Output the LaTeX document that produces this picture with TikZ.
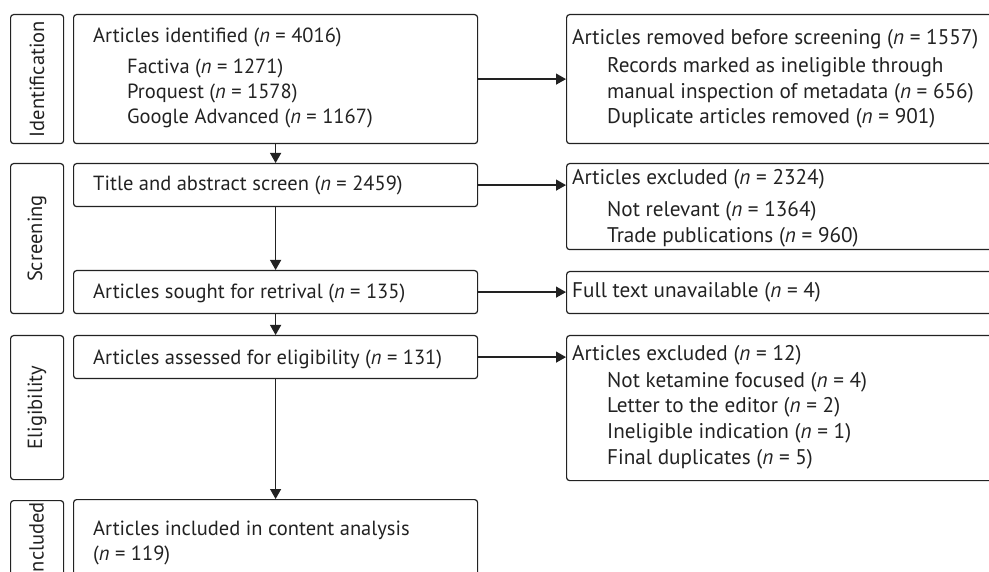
\documentclass[tikz,border=0pt]{standalone}
\usepackage{fontspec}
\setmainfont{PT Sans}
\usetikzlibrary{arrows.meta}
\definecolor{ink}{HTML}{222222}
\begin{document}
\begin{tikzpicture}[x=1pt,y=-1pt,
  box/.style={draw=ink, line width=1.2pt, rounded corners=3pt, inner sep=0pt, anchor=north west},
  txt/.style={anchor=base west, inner sep=0pt, text=ink, font=\fontsize{20.5}{25}\selectfont},
  rtxt/.style={anchor=base west, inner sep=0pt, text=ink, font=\fontsize{21.2}{25}\selectfont},
  phase/.style={rotate=90, inner sep=0pt, text=ink, font=\fontsize{20.5}{25}\selectfont},
  arr/.style={draw=ink, line width=1.2pt, -{Triangle[length=10pt,width=11pt]}}]
\useasboundingbox (0,0) rectangle (989,572);
\clip (0,0) rectangle (989,572);
% phase boxes
\node[box, minimum width=53pt, minimum height=129pt] (pI) at (10,14) {};
\node[box, minimum width=53pt, minimum height=150pt] (pS) at (10,163) {};
\node[box, minimum width=53pt, minimum height=144pt] (pE) at (10,335) {};
\node[box, minimum width=53pt, minimum height=120pt] (pN) at (10,500) {};
\node[phase] (lI) at (pI.center) {Identification};
\node[phase] (lS) at (pS.center) {Screening};
\node[phase] (lE) at (pE.center) {Eligibility};
\node[phase, anchor=east] (lN) at (36.5,502) {Included};
% main boxes
\node[box, minimum width=404pt, minimum height=129pt] (b1) at (73,14) {};
\node[box, minimum width=404pt, minimum height=43pt] (b2) at (73,163) {};
\node[box, minimum width=404pt, minimum height=43pt] (b3) at (73,270) {};
\node[box, minimum width=404pt, minimum height=43pt] (b4) at (73,335) {};
\node[box, minimum width=404pt, minimum height=120pt] (b5) at (73,499) {};
% right boxes
\node[box, minimum width=450pt, minimum height=129pt] (r1) at (566,14) {};
\node[box, minimum width=450pt, minimum height=86pt] (r2) at (566,163) {};
\node[box, minimum width=450pt, minimum height=42pt] (r3) at (566,271) {};
\node[box, minimum width=450pt, minimum height=145pt] (r4) at (566,335) {};
% main texts
\node[txt] (t1) at (93,43) {Articles identified (\textit{n} = 4016)};
\node[txt] (t1a) at (127,74) {Factiva (\textit{n} = 1271)};
\node[txt] (t1b) at (127,99) {Proquest (\textit{n} = 1578)};
\node[txt] (t1c) at (127,124) {Google Advanced (\textit{n} = 1167)};
\node[txt] (t2) at (93,191) {Title and abstract screen (\textit{n} = 2459)};
\node[txt] (t3) at (93,299) {Articles sought for retrival (\textit{n} = 135)};
\node[txt] (t4) at (93,365) {Articles assessed for eligibility (\textit{n} = 131)};
\node[txt] (t5) at (93,535) {Articles included in content analysis};
\node[txt] (t5a) at (93,560) {(\textit{n} = 119)};
% right texts
\node[rtxt] (s1) at (572,45) {Articles removed before screening (\textit{n} = 1557)};
\node[rtxt] (s1a) at (607,73) {Records marked as ineligible through};
\node[rtxt] (s1b) at (607,99) {manual inspection of metadata (\textit{n} = 656)};
\node[rtxt] (s1c) at (607,124) {Duplicate articles removed (\textit{n} = 901)};
\node[rtxt] (s2) at (572,185) {Articles excluded (\textit{n} = 2324)};
\node[rtxt] (s2a) at (607,217) {Not relevant (\textit{n} = 1364)};
\node[rtxt] (s2b) at (607,243) {Trade publications (\textit{n} = 960)};
\node[rtxt] (s3) at (572,298) {Full text unavailable (\textit{n} = 4)};
\node[rtxt] (s4) at (572,360) {Articles excluded (\textit{n} = 12)};
\node[rtxt] (s4a) at (607,388) {Not ketamine focused (\textit{n} = 4)};
\node[rtxt] (s4b) at (607,413) {Letter to the editor (\textit{n} = 2)};
\node[rtxt] (s4c) at (607,438) {Ineligible indication (\textit{n} = 1)};
\node[rtxt] (s4d) at (607,464) {Final duplicates (\textit{n} = 5)};
% arrows
\draw[arr] (b1.south) -- (b2.north);
\draw[arr] (b2.south) -- (b3.north);
\draw[arr] (b3.south) -- (b4.north);
\draw[arr] (b4.south) -- (b5.north);
\draw[arr] (b1.east) -- (b1.east -| r1.west);
\draw[arr] (b2.east) -- (b2.east -| r2.west);
\draw[arr] (b3.east) -- (b3.east -| r3.west);
\draw[arr] (b4.east) -- (b4.east -| r4.west);
\end{tikzpicture}
\end{document}
